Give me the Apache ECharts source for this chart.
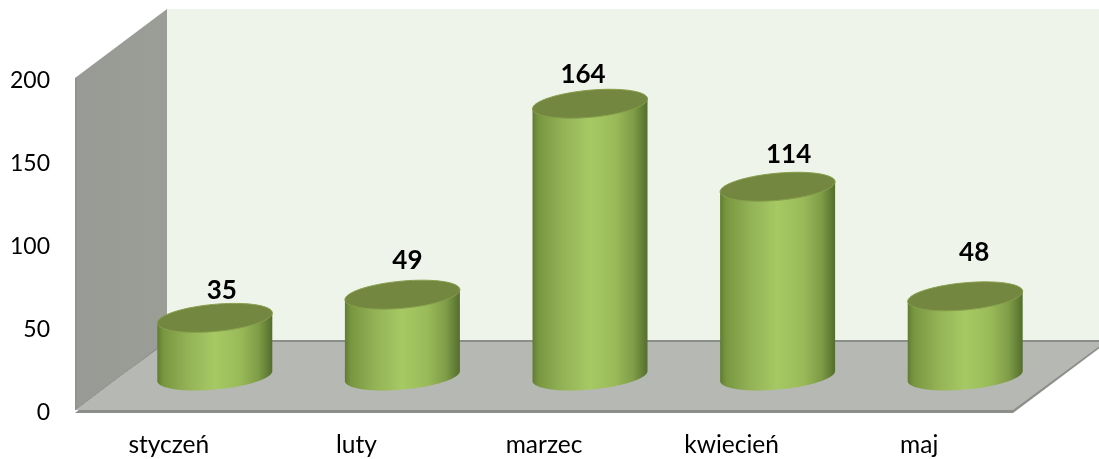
<!DOCTYPE html>
<html><head><meta charset="utf-8">
<style>html,body{margin:0;padding:0;background:#fff}#c{width:1099px;height:459px}</style>
<script src="https://cdn.jsdelivr.net/npm/echarts@6/dist/echarts.min.js"></script>
</head><body><div id="c"></div>
<script>
const categories = ['styczeń', 'luty', 'marzec', 'kwiecień', 'maj'];
const values = [35, 49, 164, 114, 48];
const yTicks = [0, 50, 100, 150, 200];

// styling / layout constants of the pseudo-3D look
const FONT = 'Lato, "Open Sans", sans-serif';
const DEPTH_X = 92, DEPTH_Y = -69;      // back wall offset from front plane
const SHIFT_X = 46, SHIFT_Y = -34;      // cylinders stand mid-way in the depth
const RX = 57.5, RY = 13.6, TILT = 5;   // ellipse shape
const LABEL_DX = [7, 5, -7, 11, 9];     // value label nudges
const LABEL_DY = [-27, -34, -29, -32, -44];

function ellipsePts(cx, cy, from, to, n) {
  const pts = [];
  for (let k = 0; k <= n; k++) {
    const t = from + (to - from) * k / n;
    pts.push([cx + RX * Math.cos(t), cy + RY * Math.sin(t) - TILT * Math.cos(t)]);
  }
  return pts;
}
const bodyFill = {type:'linear',x:0,y:0,x2:1,y2:0,colorStops:[
  {offset:0,color:'#5f7c33'},{offset:0.05,color:'#78963f'},{offset:0.25,color:'#92b155'},
  {offset:0.5,color:'#a6c964'},{offset:0.72,color:'#9aba59'},{offset:0.88,color:'#7f9c47'},
  {offset:0.97,color:'#5e7a33'},{offset:1,color:'#546d2c'}]};

function renderWalls(params, api) {
  const cs = params.coordSys;
  const L = cs.x, R = cs.x + cs.width, B = cs.y + cs.height, T = cs.y;
  const dx = DEPTH_X, dy = DEPTH_Y;
  const poly = (points, fill) => ({type:'polygon', shape:{points}, style:{fill}, silent:true});
  return {type:'group', children:[
    poly([[L+dx,T+dy],[R+dx,T+dy],[R+dx,B+dy],[L+dx,B+dy]], '#eff4ea'),
    poly([[L,T],[L+dx,T+dy],[L+dx,B+dy],[L,B]], {type:'linear',x:0,y:0,x2:1,y2:0,colorStops:[
      {offset:0,color:'#8d8f8a'},{offset:0.03,color:'#989a95'},{offset:1,color:'#9b9d97'}]}),
    poly([[L,B+3],[R,B+3],[R+dx,B+dy+3],[R+dx,B+dy-1],[L+dx,B+dy-1]], '#8c8e8a'),
    poly([[L,B],[R,B],[R+dx,B+dy+1],[L+dx,B+dy+1]], '#b6b8b3'),
    {type:'line', shape:{x1:L,y1:B,x2:L+dx,y2:B+dy}, style:{stroke:'#8c8e8a',lineWidth:1}, silent:true}
  ]};
}

function renderCylinder(params, api) {
  const i = api.value(0), v = api.value(1);
  const top = api.coord([i, v]), base = api.coord([i, 0]);
  const cx = top[0] + SHIFT_X, ty = top[1] + SHIFT_Y, by = base[1] + SHIFT_Y;
  const bodyPts = ellipsePts(cx, by, Math.PI, 0, 60);
  return {type:'group', children:[
    {type:'polygon', shape:{points:bodyPts.concat([[cx + RX, ty - TILT],[cx - RX, ty + TILT]])}, style:{fill:bodyFill}, silent:true},
    {type:'polygon', shape:{points:ellipsePts(cx, ty, 0, Math.PI*2, 90)}, style:{fill:'#738740', stroke:'#87a04c', lineWidth:1}, silent:true},
    {type:'text', x:cx + LABEL_DX[i], y:ty + LABEL_DY[i], silent:true,
      style:{text:String(values[i]), fill:'#000', font:'bold 26px '+FONT, align:'center', verticalAlign:'middle'}}
  ]};
}

const chart = echarts.init(document.getElementById('c'), null, {renderer:'canvas'});
chart.setOption({
  animation:false,
  grid:{left:75, top:78, width:938, height:332, containLabel:false},
  xAxis:{type:'category', data:categories, axisLine:{show:false}, axisTick:{show:false},
    axisLabel:{color:'#000', fontFamily:FONT, fontSize:24.5, margin:23, interval:0}},
  yAxis:{type:'value', min:yTicks[0], max:yTicks[yTicks.length-1], interval:50, splitLine:{show:false},
    axisLine:{show:false}, axisTick:{show:false},
    axisLabel:{margin:25, formatter:'{a|{value}}',
      rich:{a:{color:'#000', fontFamily:FONT, fontSize:23, lineHeight:28, padding:[6,0,0,0]}}}},
  series:[
    {type:'custom', silent:true, z:1, clip:false, data:[[0,0]], renderItem:renderWalls, encode:{x:0,y:1}},
    {type:'custom', silent:true, z:2, clip:false, data:values.map((v,i)=>[i,v]), renderItem:renderCylinder, encode:{x:0,y:1}}
  ]
});
</script></body></html>
